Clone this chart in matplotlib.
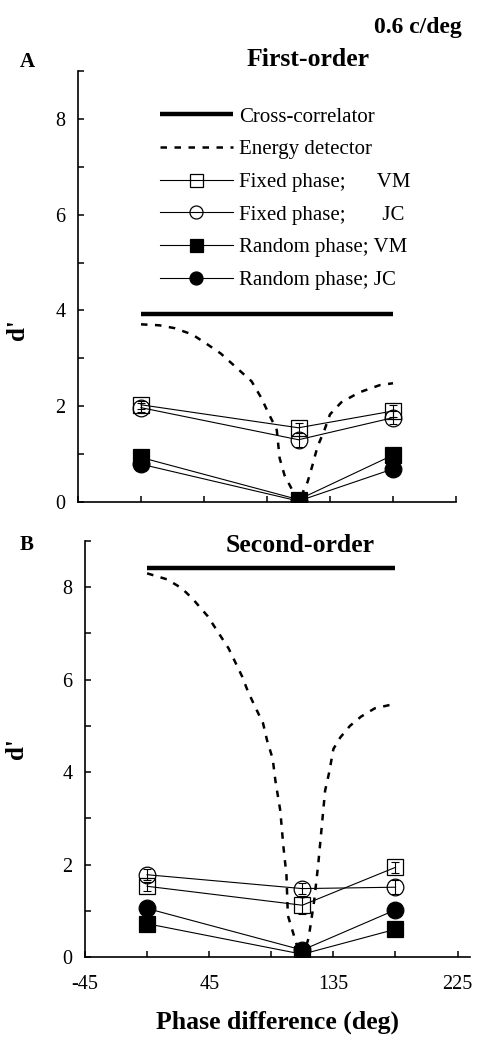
import numpy as np
import matplotlib.pyplot as plt
from matplotlib.ticker import FixedLocator

plt.rcParams['font.family'] = ['Liberation Serif', 'DejaVu Serif']

# phases tested (deg)
phase = [0, 112.5, 180]

# first-order (A)
fo_fixed_vm = [2.03, 1.55, 1.90]
fo_fixed_vm_err = [0.08, 0.10, 0.12]
fo_fixed_jc = [1.97, 1.30, 1.76]
fo_fixed_jc_err = [0.10, 0.15, 0.14]
fo_rand_vm = [0.93, 0.05, 0.98]
fo_rand_vm_err = [0.05, 0.03, 0.08]
fo_rand_jc = [0.79, 0.02, 0.69]
fo_rand_jc_err = [0.06, 0.03, 0.06]
fo_xcorr = 3.93
fo_energy_ph = [0, 13, 24, 36.5, 46.5, 57, 68, 79, 86, 90, 97, 99, 102.5,
                112.5, 119, 122.5, 126, 131, 135, 143, 156, 170.5, 180]
fo_energy = [3.71, 3.69, 3.63, 3.50, 3.31, 3.10, 2.81, 2.52, 2.17, 1.92, 1.50,
             0.92, 0.56, 0.0, 0.42, 0.77, 1.15, 1.50, 1.83, 2.08, 2.29, 2.44, 2.48]

# second-order (B)
so_fixed_vm = [1.53, 1.12, 1.94]
so_fixed_vm_err = [0.10, 0.20, 0.12]
so_fixed_jc = [1.78, 1.48, 1.51]
so_fixed_jc_err = [0.12, 0.12, 0.15]
so_rand_vm = [0.72, 0.06, 0.60]
so_rand_vm_err = [0.06, 0.04, 0.06]
so_rand_jc = [1.05, 0.15, 1.02]
so_rand_jc_err = [0.08, 0.05, 0.08]
so_xcorr = 8.42
so_energy_ph = [0, 14.5, 25, 33, 44, 52, 59, 65, 69, 73, 78, 84, 87, 91, 93,
                96.5, 98.7, 101, 102, 109.6, 112.5, 117, 121, 124, 126.5, 129,
                132, 135, 140, 147, 155, 165, 180]
so_energy = [8.30, 8.17, 7.98, 7.75, 7.37, 7.00, 6.68, 6.31, 6.06, 5.75, 5.43,
             5.06, 4.68, 4.29, 3.81, 3.17, 2.41, 1.77, 0.90, 0.15, 0.0, 0.40,
             1.20, 2.00, 2.80, 3.60, 4.00, 4.50, 4.75, 5.00, 5.20, 5.38, 5.48]

labels = ["Cross-correlator", "Energy detector", "Fixed phase;      VM",
          "Fixed phase;       JC", "Random phase; VM", "Random phase; JC"]

W, H = 480, 1039
fig = plt.figure(figsize=(W / 100, H / 100), dpi=100)


def px_axes(l, r, t, b):
    return fig.add_axes([l / W, 1 - b / H, (r - l) / W, (b - t) / H])


def panel(ax, xc, eph, en, fvm, fvme, fjc, fjce, rvm, rvme, rjc, rjce, xmax):
    h = []
    h += ax.plot([0, 180], [xc, xc], color='k', lw=3.2, solid_capstyle='butt')
    h += ax.plot(eph, en, color='k', lw=1.8, ls=(0, (2.6, 3)))
    series = [(fvm, fvme, 's', 'none'), (fjc, fjce, 'o', 'none'),
              (rvm, rvme, 's', 'k'), (rjc, rjce, 'o', 'k')]
    for y, e, m, fc in series:
        ax.errorbar(phase, y, yerr=e, fmt='none', ecolor='k', elinewidth=0.8,
                    capsize=3, capthick=0.8)
        h += ax.plot(phase, y, color='k', lw=0.8, marker=m, ms=12,
                     mfc=fc, mec='k', mew=0.9)
    ax.set_xlim(-45, xmax)
    ax.set_ylim(0, 9)
    for s in ['top', 'right']:
        ax.spines[s].set_visible(False)
    for s in ['left', 'bottom']:
        ax.spines[s].set_linewidth(1.2)
    ax.xaxis.set_major_locator(FixedLocator([-45, 0, 45, 90, 135, 180, 225]))
    ax.yaxis.set_major_locator(FixedLocator(list(range(10))))
    ax.set_yticklabels(['0', '', '2', '', '4', '', '6', '', '8', ''])
    ax.tick_params(direction='in', length=4, width=1.1, labelsize=14.5)
    ax.tick_params(axis='y', pad=9)
    ax.set_ylabel("d'", fontsize=18, fontweight='bold')
    return h


ax1 = px_axes(78, 456, 71, 502)
handles = panel(ax1, fo_xcorr, fo_energy_ph, fo_energy,
                fo_fixed_vm, fo_fixed_vm_err, fo_fixed_jc, fo_fixed_jc_err,
                fo_rand_vm, fo_rand_vm_err, fo_rand_jc, fo_rand_jc_err, 225)
ax1.set_xticklabels([])
ax1.yaxis.set_label_coords(-0.13, 0.40)

ax2 = px_axes(85, 470, 541, 957)
panel(ax2, so_xcorr, so_energy_ph, so_energy,
      so_fixed_vm, so_fixed_vm_err, so_fixed_jc, so_fixed_jc_err,
      so_rand_vm, so_rand_vm_err, so_rand_jc, so_rand_jc_err, 234)
ax2.set_xticklabels(['-45', '', '45', '', '135', '', '225'])
ax2.tick_params(axis='x', pad=13)
ax2.yaxis.set_label_coords(-0.148, 0.5)
ax2.set_xlabel("Phase difference (deg)", fontsize=18.5, fontweight='bold',
               labelpad=12)

ax1.legend(handles, labels, loc='upper left', frameon=False, fontsize=15,
           bbox_to_anchor=(160 / W, 1 - 107 / H), bbox_transform=fig.transFigure,
           borderpad=0, borderaxespad=0, handlelength=3.5, handletextpad=0.3,
           labelspacing=0.63, markerscale=0.78)

fig.text(462 / W, 1 - 27 / H, "0.6 c/deg", ha='right', va='center',
         fontsize=17, fontweight='bold')
fig.text(308 / W, 1 - 60 / H, "First-order", ha='center', va='center',
         fontsize=18.5, fontweight='bold')
fig.text(300 / W, 1 - 545 / H, "Second-order", ha='center', va='center',
         fontsize=18.5, fontweight='bold')
fig.text(27 / W, 1 - 62 / H, "A", ha='center', va='center', fontsize=15,
         fontweight='bold')
fig.text(27 / W, 1 - 545 / H, "B", ha='center', va='center', fontsize=15,
         fontweight='bold')

fig.savefig("out.png", dpi=100)
